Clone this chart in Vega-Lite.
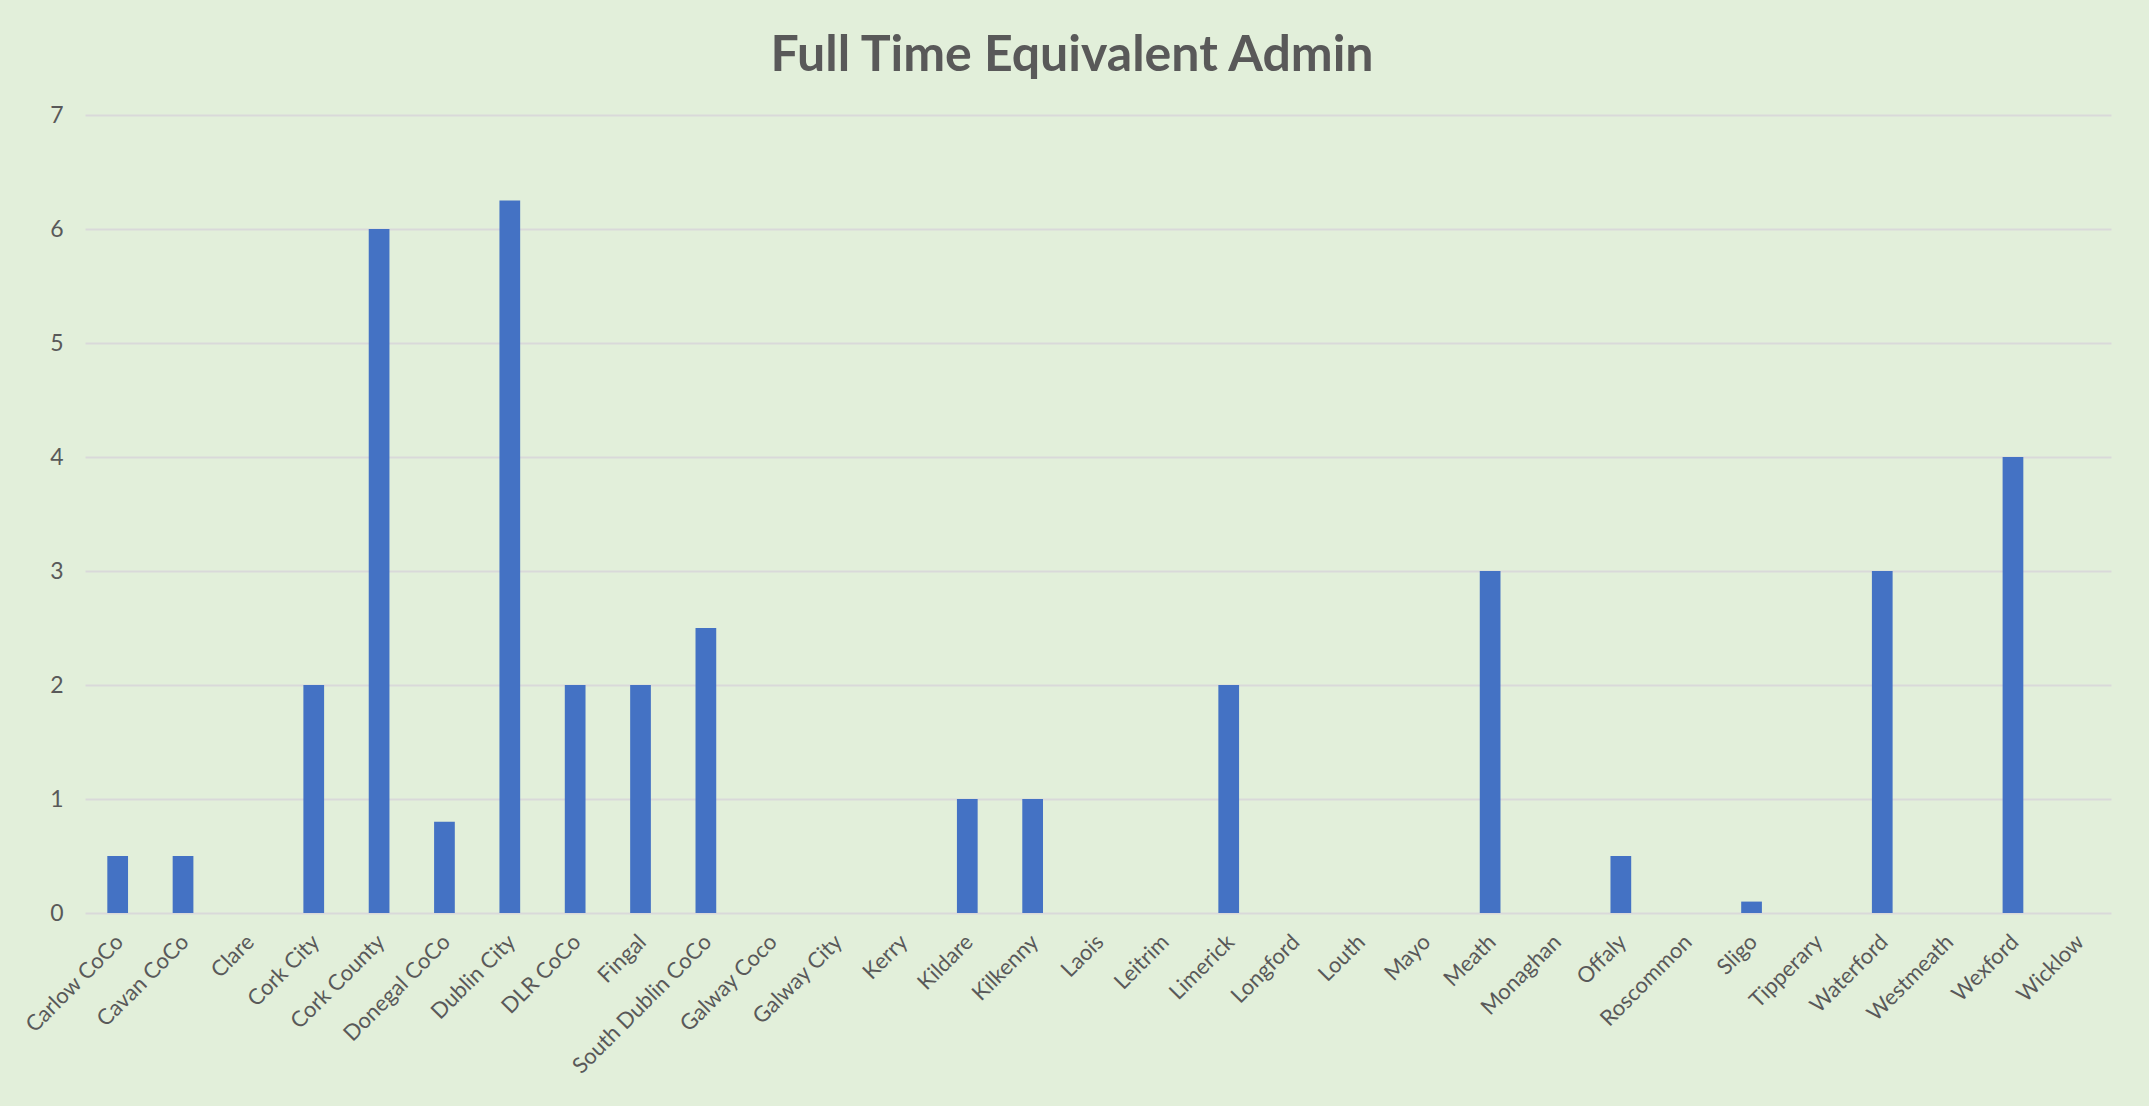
{
  "$schema": "https://vega.github.io/schema/vega-lite/v6.json",
  "autosize": {"type": "none"},
  "width": 2026,
  "height": 798,
  "padding": {"left": 85, "top": 115, "right": 38, "bottom": 193},
  "background": "#E2EFDA",
  "title": {
    "text": "Full Time Equivalent Admin",
    "font": "Lato",
    "fontSize": 50,
    "fontWeight": "bold",
    "color": "#595959",
    "anchor": "middle",
    "frame": "group",
    "baseline": "alphabetic",
    "offset": -17,
    "dx": -26
  },
  "config": {
    "view": {"stroke": null},
    "font": "Lato"
  },
  "data": {
    "values": [
      {"council": "Carlow CoCo", "fte": 0.5},
      {"council": "Cavan CoCo", "fte": 0.5},
      {"council": "Clare", "fte": 0},
      {"council": "Cork City", "fte": 2},
      {"council": "Cork County", "fte": 6},
      {"council": "Donegal CoCo", "fte": 0.8},
      {"council": "Dublin City", "fte": 6.25},
      {"council": "DLR CoCo", "fte": 2},
      {"council": "Fingal", "fte": 2},
      {"council": "South Dublin CoCo", "fte": 2.5},
      {"council": "Galway Coco", "fte": 0},
      {"council": "Galway City", "fte": 0},
      {"council": "Kerry", "fte": 0},
      {"council": "Kildare", "fte": 1},
      {"council": "Kilkenny", "fte": 1},
      {"council": "Laois", "fte": 0},
      {"council": "Leitrim", "fte": 0},
      {"council": "Limerick", "fte": 2},
      {"council": "Longford", "fte": 0},
      {"council": "Louth", "fte": 0},
      {"council": "Mayo", "fte": 0},
      {"council": "Meath", "fte": 3},
      {"council": "Monaghan", "fte": 0},
      {"council": "Offaly", "fte": 0.5},
      {"council": "Roscommon", "fte": 0},
      {"council": "Sligo", "fte": 0.1},
      {"council": "Tipperary", "fte": 0},
      {"council": "Waterford", "fte": 3},
      {"council": "Westmeath", "fte": 0},
      {"council": "Wexford", "fte": 4},
      {"council": "Wicklow", "fte": 0}
    ]
  },
  "mark": {"type": "bar", "color": "#4472C4"},
  "encoding": {
    "x": {
      "field": "council",
      "type": "nominal",
      "sort": null,
      "scale": {"paddingInner": 0.683, "paddingOuter": 0.3415},
      "axis": {
        "title": null,
        "domain": false,
        "ticks": false,
        "labelAngle": -45,
        "labelFontSize": 22,
        "labelColor": "#595959",
        "labelPadding": 18,
        "labelOffset": -5,
        "labelOverlap": false,
        "labelLimit": 400
      }
    },
    "y": {
      "field": "fte",
      "type": "quantitative",
      "scale": {"domain": [0, 7], "nice": false},
      "axis": {
        "title": null,
        "domain": false,
        "ticks": false,
        "values": [0, 1, 2, 3, 4, 5, 6, 7],
        "labelFontSize": 23,
        "labelColor": "#595959",
        "labelPadding": 22,
        "gridColor": "#D9D9D9",
        "gridWidth": 2
      }
    }
  }
}
